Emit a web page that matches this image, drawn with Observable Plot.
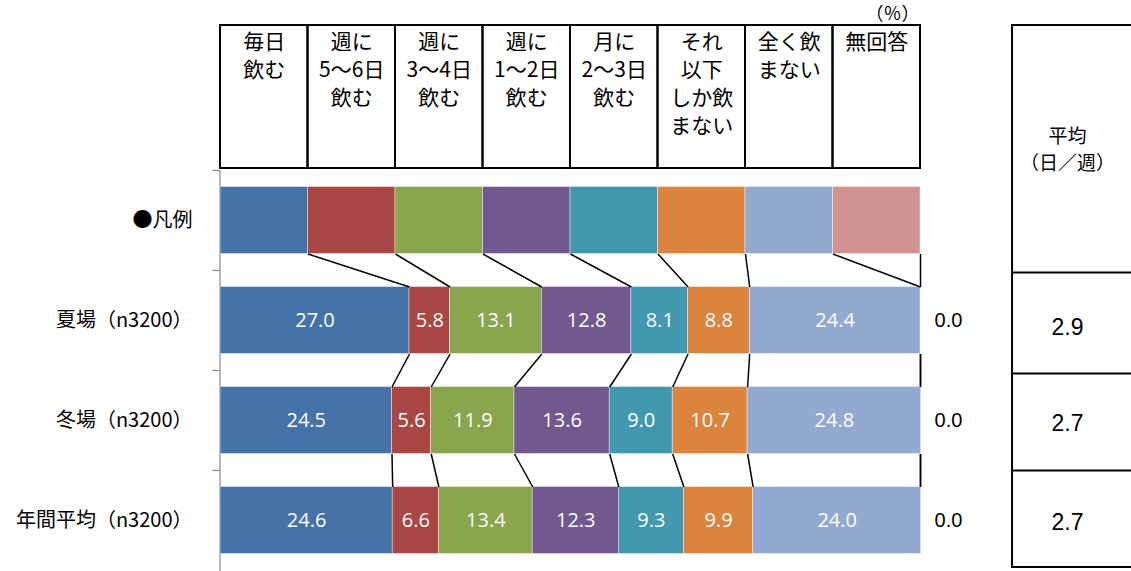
<!DOCTYPE html>
<html><head><meta charset="utf-8">
<script src="https://cdn.jsdelivr.net/npm/d3@7"></script>
<script src="https://cdn.jsdelivr.net/npm/@observablehq/plot@0.6"></script>
<style>body{margin:0;background:#fff;}</style>
</head><body><div id="chart"></div>
<script>
// ---- data ----
const categories = ["毎日飲む","週に5～6日飲む","週に3～4日飲む","週に1～2日飲む","月に2～3日飲む","それ以下しか飲まない","全く飲まない","無回答"];
const headerLines = [["毎日","飲む"],["週に","5～6日","飲む"],["週に","3～4日","飲む"],["週に","1～2日","飲む"],["月に","2～3日","飲む"],["それ","以下","しか飲","まない"],["全く飲","まない"],["無回答"]];
const rowLabels = ["●凡例","夏場（n3200）","冬場（n3200）","年間平均（n3200）"];
const legendShares = [12.5,12.5,12.5,12.5,12.5,12.5,12.5,12.5];
const summer = [27.0,5.8,13.1,12.8,8.1,8.8,24.4,0.0];
const winter = [24.5,5.6,11.9,13.6,9.0,10.7,24.8,0.0];
const annual = [24.6,6.6,13.4,12.3,9.3,9.9,24.0,0.0];
const averages = [2.9,2.7,2.7];
const avgHeader = ["平均","（日／週）"];
const unitLabel = "（％）";
const colors = ["#4572A7","#AA4643","#89A54E","#71588F","#4198AF","#DB843D","#93A9CF","#D19392"];

// ---- layout constants (scale units) ----
const half = 0.335;               // half bar thickness (rows 1 unit apart)
const headTop = -1.95, headBottom = -0.52;
const tblX1 = 113.15, tblX2 = 140;
const tblLines = [0.52, 1.53, 2.50];
const tblBottom = 3.47;

const series = [legendShares, summer, winter, annual];
const segs = [];
const ends = series.map(vals => Array.from(d3.cumsum(vals)));
series.forEach((vals, r) => {
  vals.forEach((v, c) => {
    const x2 = ends[r][c];
    segs.push({row: r, cat: categories[c], c, value: v, x1: x2 - v, x2});
  });
});
const links = [];
for (let r = 0; r < 3; r++) {
  for (let c = 0; c < 8; c++) {
    links.push({x1: Math.min(ends[r][c], 100), y1: r + half, x2: Math.min(ends[r+1][c], 100), y2: r + 1 - half});
  }
}
const inLabels = segs.filter(d => d.row > 0 && d.c < 7);
const naLabels = segs.filter(d => d.row > 0 && d.c === 7);
const headCells = categories.map((cat, c) => ({c, x1: c*12.5, x2: (c+1)*12.5, text: headerLines[c].join("\n")}));

const plot = Plot.plot({
  width: 1131, height: 571,
  marginLeft: 220, marginRight: 211, marginTop: 0, marginBottom: 0,
  x: {domain: [0, 100], axis: null},
  y: {domain: [-2.2, 3.51], range: [0, 571], axis: null},
  color: {domain: categories, range: colors},
  style: {fontFamily: "'Noto Sans CJK JP', sans-serif", background: "#fff", overflow: "visible"},
  marks: [
    // header table
    Plot.rect(headCells, {x1: "x1", x2: "x2", y1: headTop, y2: headBottom, fill: "none", stroke: "#000", strokeWidth: 2}),
    Plot.text(headCells, {x: d => (d.x1 + d.x2) / 2, y: headTop + 0.035, text: "text", lineAnchor: "top", lineHeight: 1.33, fontSize: 21, fill: "#000"}),
    Plot.text([unitLabel], {x: 96.0, y: -2.06, text: d => d, fontSize: 18, fill: "#000"}),
    // axis
    Plot.ruleX([0], {x: -0.07, y1: -0.5, y2: 3.51, stroke: "#868686", strokeWidth: 1.2}),
    Plot.ruleY([-0.5, 0.5, 1.5, 2.5], {y: d => d, x1: -1.07, x2: -0.07, stroke: "#868686", strokeWidth: 1.2}),
    // bars
    Plot.rect(segs, {x1: "x1", x2: "x2", y1: d => d.row - half, y2: d => d.row + half, fill: "cat", stroke: "#fff", strokeWidth: 0.6, strokeOpacity: 0.7}),
    // connectors
    Plot.link(links, {x1: "x1", y1: "y1", x2: "x2", y2: "y2", stroke: "#000", strokeWidth: 1.5}),
    // labels
    Plot.text(inLabels, {x: d => (d.x1 + d.x2) / 2, y: "row", text: d => d.value.toFixed(1), fill: "#fff", fontSize: 20, fontFamily: "'Open Sans', 'Noto Sans', sans-serif"}),
    Plot.text(naLabels, {x: 104, y: "row", text: d => d.value.toFixed(1), fill: "#000", fontSize: 20, fontFamily: "'Liberation Sans', Arial, sans-serif"}),
    Plot.text(rowLabels, {x: -4, y: (d, i) => i, text: d => d, textAnchor: "end", fontSize: 20, fill: "#000"}),
    // right table
    Plot.rect([0], {x1: tblX1, x2: tblX2, y1: headTop, y2: tblBottom, fill: "none", stroke: "#000", strokeWidth: 2}),
    Plot.ruleY(tblLines, {y: d => d, x1: tblX1, x2: tblX2, stroke: "#000", strokeWidth: 2}),
    Plot.text(avgHeader, {x: 121, y: (d, i) => [-0.835, -0.565][i], text: d => d, fontSize: 19, fill: "#000"}),
    Plot.text(averages, {x: 121, y: (d, i) => [1.07, 2.03, 3.02][i], text: d => d.toFixed(1), fontSize: 23, fill: "#000", fontFamily: "'Liberation Sans', Arial, sans-serif"})
  ]
});
document.getElementById("chart").appendChild(plot);
</script>
</body></html>
